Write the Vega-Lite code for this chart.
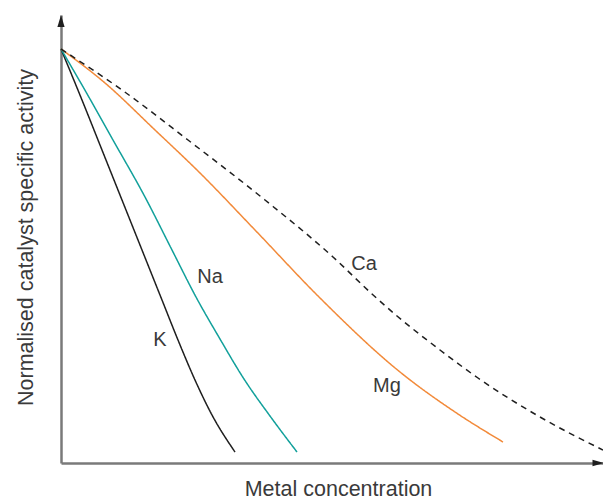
{
  "$schema": "https://vega.github.io/schema/vega-lite/v6.json",
  "width": 542,
  "height": 448,
  "autosize": {"type": "none"},
  "padding": {"left": 61, "top": 15, "right": 0, "bottom": 39},
  "background": "white",
  "config": {
    "view": {"stroke": null},
    "axis": {"grid": false, "ticks": false, "labels": false, "domainColor": "#7a7a7a", "domainWidth": 2.5, "titleFont": "Liberation Sans", "titleFontSize": 21.5, "titleFontWeight": "normal", "titleColor": "#3a3a3a"}
  },
  "datasets": {
    "curves": [
      {"metal": "K", "conc": 0, "act": 414}, {"metal": "K", "conc": 21, "act": 363}, {"metal": "K", "conc": 41, "act": 313}, {"metal": "K", "conc": 61, "act": 263}, {"metal": "K", "conc": 81, "act": 213}, {"metal": "K", "conc": 101, "act": 163}, {"metal": "K", "conc": 117, "act": 123}, {"metal": "K", "conc": 134, "act": 83}, {"metal": "K", "conc": 151, "act": 48}, {"metal": "K", "conc": 174, "act": 11},
      {"metal": "Na", "conc": 0, "act": 414}, {"metal": "Na", "conc": 25, "act": 371}, {"metal": "Na", "conc": 52, "act": 323}, {"metal": "Na", "conc": 84, "act": 266}, {"metal": "Na", "conc": 111, "act": 213}, {"metal": "Na", "conc": 135, "act": 166}, {"metal": "Na", "conc": 159, "act": 124}, {"metal": "Na", "conc": 183, "act": 84}, {"metal": "Na", "conc": 209, "act": 47}, {"metal": "Na", "conc": 236, "act": 11},
      {"metal": "Mg", "conc": 0, "act": 414}, {"metal": "Mg", "conc": 44, "act": 380}, {"metal": "Mg", "conc": 94, "act": 333}, {"metal": "Mg", "conc": 139, "act": 290}, {"metal": "Mg", "conc": 194, "act": 233}, {"metal": "Mg", "conc": 259, "act": 165}, {"metal": "Mg", "conc": 339, "act": 91}, {"metal": "Mg", "conc": 394, "act": 51}, {"metal": "Mg", "conc": 442, "act": 21},
      {"metal": "Ca", "conc": 0, "act": 414}, {"metal": "Ca", "conc": 61, "act": 373}, {"metal": "Ca", "conc": 127, "act": 323}, {"metal": "Ca", "conc": 204, "act": 263}, {"metal": "Ca", "conc": 272, "act": 206}, {"metal": "Ca", "conc": 311, "act": 169}, {"metal": "Ca", "conc": 336, "act": 147}, {"metal": "Ca", "conc": 379, "act": 113}, {"metal": "Ca", "conc": 417, "act": 85}, {"metal": "Ca", "conc": 479, "act": 46}, {"metal": "Ca", "conc": 542, "act": 13}
    ],
    "labels": [
      {"metal": "K", "conc": 99, "act": 123},
      {"metal": "Na", "conc": 149, "act": 186},
      {"metal": "Ca", "conc": 303, "act": 199},
      {"metal": "Mg", "conc": 326, "act": 77}
    ],
    "arrows": [
      {"dir": "up", "conc": 0, "act": 442},
      {"dir": "right", "conc": 537, "act": 0}
    ]
  },
  "layer": [
    {
      "data": {"name": "curves"},
      "mark": {"type": "line", "interpolate": "monotone", "strokeWidth": 1.5},
      "encoding": {
        "x": {"field": "conc", "type": "quantitative", "scale": {"domain": [0, 542], "nice": false, "zero": false}, "axis": {"title": "Metal concentration", "titlePadding": 15, "titleX": 277}},
        "y": {"field": "act", "type": "quantitative", "scale": {"domain": [0, 448], "nice": false, "zero": false}, "axis": {"title": "Normalised catalyst specific activity", "titlePadding": 24, "titleY": 222}},
        "color": {"field": "metal", "type": "nominal", "scale": {"domain": ["K", "Na", "Mg", "Ca"], "range": ["#1f1f1f", "#12a09b", "#f28a3a", "#1f1f1f"]}, "legend": null},
        "strokeDash": {"field": "metal", "type": "nominal", "scale": {"domain": ["K", "Na", "Mg", "Ca"], "range": [[1, 0], [1, 0], [1, 0], [6, 5]]}, "legend": null},
        "detail": {"field": "metal"}
      }
    },
    {
      "data": {"name": "labels"},
      "mark": {"type": "text", "font": "Liberation Sans", "fontSize": 20, "color": "#3a3a3a"},
      "encoding": {
        "x": {"field": "conc", "type": "quantitative"},
        "y": {"field": "act", "type": "quantitative"},
        "text": {"field": "metal"}
      }
    },
    {
      "data": {"name": "arrows"},
      "transform": [{"filter": "datum.dir == 'up'"}],
      "mark": {"type": "point", "shape": "M -0.6 1 L 0 -1 L 0.6 1 Z", "size": 144, "filled": true, "color": "#1f1f1f", "opacity": 1},
      "encoding": {
        "x": {"field": "conc", "type": "quantitative"},
        "y": {"field": "act", "type": "quantitative"}
      }
    },
    {
      "data": {"name": "arrows"},
      "transform": [{"filter": "datum.dir == 'right'"}],
      "mark": {"type": "point", "shape": "M -1 -0.6 L 1 0 L -1 0.6 Z", "size": 121, "filled": true, "color": "#1f1f1f", "opacity": 1},
      "encoding": {
        "x": {"field": "conc", "type": "quantitative"},
        "y": {"field": "act", "type": "quantitative"}
      }
    }
  ]
}
